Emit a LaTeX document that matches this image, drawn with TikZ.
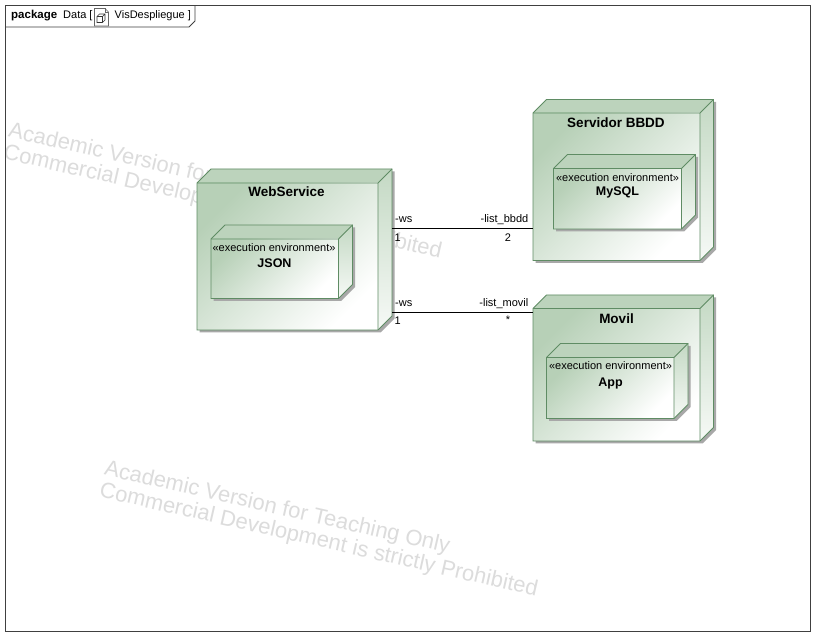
\documentclass[tikz,border=0pt]{standalone}
\usepackage{fontspec}
\setmainfont{Liberation Sans}
\usetikzlibrary{calc,fit}
\definecolor{bordc}{HTML}{5F8C64}
\definecolor{topc}{HTML}{BCD3BC}
\definecolor{frontc}{HTML}{B7D0B7}
\definecolor{sidec}{HTML}{C4D9C4}
\definecolor{shadc}{HTML}{A8A8A8}
\definecolor{wmark}{HTML}{DCDCDC}
\definecolor{framec}{HTML}{404040}
\tikzset{
  nodeline/.style={draw=bordc, line width=0.9pt},
  lbl/.style={font=\fontsize{11}{13}\selectfont, inner sep=0pt},
  ttl/.style={font=\fontsize{13.5}{15}\selectfont\bfseries, inner sep=0pt},
  stereo/.style={font=\fontsize{11}{13}\selectfont, inner sep=0pt},
  inname/.style={font=\fontsize{12.5}{14}\selectfont\bfseries, inner sep=0pt},
  wm/.style={font=\fontsize{22}{22.5}\selectfont, text=wmark, rotate=-12.8, align=left, anchor=north west, inner sep=0pt},
  assoc/.style={draw=black, line width=0.8pt},
}
% #1 name, #2 x1, #3 y1, #4 x2, #5 y2, #6 depth
\newcommand{\cubenode}[6]{%
  \fill[shadc] (#2+2.5,#3+2.5) -- (#2+#6+2.5,#3-#6+2.5) -- (#4+#6+2.5,#3-#6+2.5) -- (#4+#6+2.5,#5-#6+2.5) -- (#4+2.5,#5+2.5) -- (#2+2.5,#5+2.5) -- cycle;
  \fill[topc] (#2,#3) -- (#2+#6,#3-#6) -- (#4+#6,#3-#6) -- (#4,#3) -- cycle;
  \shade[top color=sidec, bottom color=white!85!sidec] (#4,#3) -- (#4+#6,#3-#6) -- (#4+#6,#5-#6) -- (#4,#5) -- cycle;
  \shade[top color=frontc, bottom color=white, shading angle=45] (#2,#3) rectangle (#4,#5);
  \draw[nodeline, line join=miter] (#2,#3) -- (#2+#6,#3-#6) -- (#4+#6,#3-#6) -- (#4+#6,#5-#6) -- (#4,#5) -- (#2,#5) -- cycle;
  \draw[nodeline] (#2,#3) -- (#4,#3) -- (#4+#6,#3-#6) (#4,#3) -- (#4,#5);
  \node[fit={(#2,#3-#6)(#4+#6,#5)}, inner sep=0pt] (#1) {};
  \node[fit={(#2,#3)(#4,#5)}, inner sep=0pt] (#1f) {};
}
\begin{document}
\begin{tikzpicture}[x=1pt,y=-1pt]
\useasboundingbox (0,0) rectangle (815,636);
\fill[white] (0,0) rectangle (815,636);
% watermarks
\node[wm] (wm1) at (11,121) {Academic Version for Teaching Only\\Commercial Development is strictly Prohibited};
\node[wm] (wm2) at (107,459) {Academic Version for Teaching Only\\Commercial Development is strictly Prohibited};
% frame
\draw[framec, line width=0.9pt] (5.5,5.5) rectangle (810.5,631);
\draw[framec, line width=0.9pt] (5.5,27) -- (189,27) -- (195,21) -- (195,5.5);
\node[lbl, anchor=base west, font=\fontsize{11.5}{13}\selectfont\bfseries] (pk) at (11,18.5) {package};
\node[lbl, anchor=base west] (dt) at (63,18.5) {Data [};
\node[lbl, anchor=base west] (vd) at (114.5,18.5) {VisDespliegue ]};
% icon
\draw[gray!80!black, line width=0.6pt] (94.5,8.5) -- (105,8.5) -- (108.5,12) -- (108.5,26) -- (94.5,26) -- cycle;
\draw[gray!80!black, line width=0.6pt] (105,8.5) -- (105,12) -- (108.5,12);
\draw[black!80, line width=0.7pt] (97,16.5) -- (99.5,14) -- (105,14) -- (105,20) -- (102.5,22.5) -- (97,22.5) -- cycle (97,16.5) -- (102.5,16.5) -- (105,14) (102.5,16.5) -- (102.5,22.5);
% nodes
\cubenode{ws}{197}{183}{378}{330}{14}
\node[ttl] (wst) at (286.5,192) {WebService};
\cubenode{json}{211}{239}{338.5}{298.5}{14}
\node[stereo] (jsons) at (274,247.5) {«execution environment»};
\node[inname] (jsonn) at (274.5,263) {JSON};

\cubenode{bb}{533}{113}{700}{260.5}{13.5}
\node[ttl] (bbt) at (616,122.5) {Servidor BBDD};
\cubenode{my}{553.5}{168.5}{681.5}{229}{14}
\node[stereo] (mys) at (617.5,178) {«execution environment»};
\node[inname] (myn) at (617.5,192.5) {MySQL};

\cubenode{mv}{533}{308.5}{700}{441}{13.5}
\node[ttl] (mvt) at (616.5,318.5) {Movil};
\cubenode{app}{546.5}{357.5}{674}{418.5}{14}
\node[stereo] (apps) at (610.5,366) {«execution environment»};
\node[inname] (appn) at (610.5,383.5) {App};

% connectors
\coordinate (l1) at (0,228.5);
\coordinate (l2) at (0,312.5);
\draw[assoc] (ws.east |- l1) -- (bbf.west |- l1);
\draw[assoc] (ws.east |- l2) -- (mvf.west |- l2);
\node[lbl, anchor=west] (a1) at (395,219.5) {-ws};
\node[lbl, anchor=east] (a2) at (528.5,219.5) {-list\_bbdd};
\node[lbl, anchor=west] (a3) at (394.5,237.5) {1};
\node[lbl] (a4) at (508,237.5) {2};
\node[lbl, anchor=west] (b1) at (395,303.5) {-ws};
\node[lbl, anchor=east] (b2) at (528.5,303.5) {-list\_movil};
\node[lbl, anchor=west] (b3) at (394.5,321) {1};
\node[lbl] (b4) at (508,320) {*};
\end{tikzpicture}
\end{document}
